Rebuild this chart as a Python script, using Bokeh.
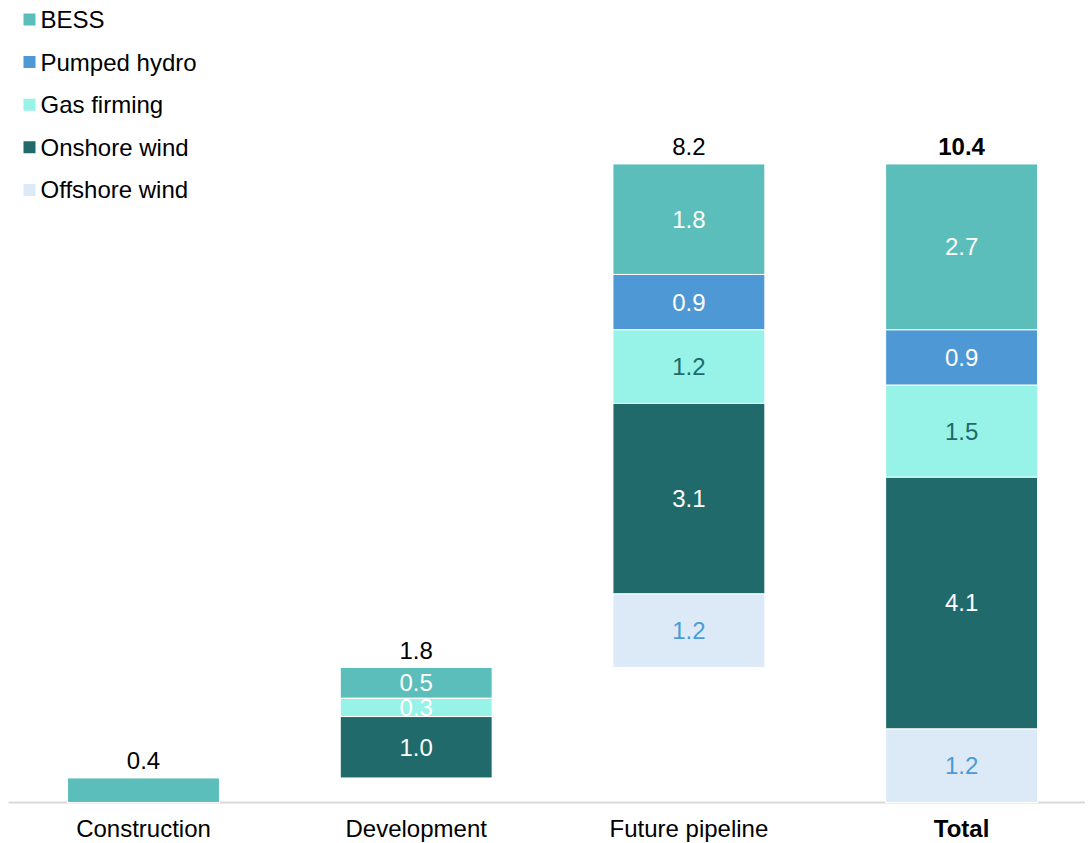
from bokeh.plotting import figure
from bokeh.models import ColumnDataSource, Range1d
from bokeh.core.properties import value
from bokeh.embed import file_html
from bokeh.resources import INLINE

# ---------------- data ----------------
categories = ["Construction", "Development", "Future pipeline", "Total"]
series = ["Offshore wind", "Onshore wind", "Gas firming", "Pumped hydro", "BESS"]  # bottom -> top
offshore_wind = [0.0, 0.0, 1.2, 1.2]
onshore_wind = [0.0, 1.0, 3.1, 4.1]
gas_firming = [0.0, 0.3, 1.2, 1.5]
pumped_hydro = [0.0, 0.0, 0.9, 0.9]
bess = [0.4, 0.5, 1.8, 2.7]
totals = [0.4, 1.8, 8.2, 10.4]
total_labels = ["0.4", "1.8", "8.2", "10.4"]

series_values = {
    "Offshore wind": offshore_wind,
    "Onshore wind": onshore_wind,
    "Gas firming": gas_firming,
    "Pumped hydro": pumped_hydro,
    "BESS": bess,
}
colors = {
    "Offshore wind": "#DCEAF7",
    "Onshore wind": "#206A6B",
    "Gas firming": "#97F2E7",
    "Pumped hydro": "#4E98D6",
    "BESS": "#5BBEBA",
}
label_colors = {
    "Offshore wind": "#4B9BD8",
    "Onshore wind": "#FFFFFF",
    "Gas firming": "#206A6B",
    "Pumped hydro": "#FFFFFF",
    "BESS": "#FFFFFF",
}

# ---------------- layout ----------------
W, H = 1085, 843
FONT = "Liberation Sans"
FS = "24px"
XU = 272.7      # px per category
YU = 61.4       # px per unit
BASE_PX = 802   # baseline in figure px from top
x0 = -143 / XU
x_range = Range1d(x0, x0 + W / XU)
y_top = BASE_PX / YU
y_range = Range1d(-(H - BASE_PX) / YU, y_top)


def px_x(px):
    return x0 + px / XU


def px_y(py):
    return y_top - py / YU


p = figure(width=W, height=H, x_range=x_range, y_range=y_range,
           output_backend="svg", toolbar_location=None,
           x_axis_location=None, y_axis_location=None,
           min_border=0, outline_line_color=None)
p.grid.visible = False
p.background_fill_color = "white"
p.border_fill_color = "white"

# baseline
p.line(x=[px_x(8), px_x(W)], y=[0, 0], line_color="#D9D9D9", line_width=2)

# waterfall bases: each step starts where the previous ended; Total from 0
bases = []
running = 0.0
for i, t in enumerate(totals):
    if i == len(totals) - 1:
        bases.append(0.0)
    else:
        bases.append(running)
        running += t

xs = list(range(len(categories)))
bar_w = 0.557
bottom = list(bases)
for s in series:
    vals = series_values[s]
    tops = [b + v for b, v in zip(bottom, vals)]
    src = ColumnDataSource(dict(x=xs, bottom=bottom, top=tops))
    p.vbar(x="x", bottom="bottom", top="top", width=bar_w, source=src,
           fill_color=colors[s], line_color="white", line_width=1)
    # inside labels
    lx, ly, lt, lc = [], [], [], []
    for i, v in enumerate(vals):
        nseg = sum(1 for ss in series if series_values[ss][i] > 0)
        if v > 0 and nseg > 1:
            lx.append(i)
            ly.append((bottom[i] + tops[i]) / 2)
            lt.append(f"{v:.1f}")
            c = label_colors[s]
            if s == "Gas firming" and v < 0.5:
                c = "#FFFFFF"
            lc.append(c)
    lsrc = ColumnDataSource(dict(x=lx, y=ly, t=lt, c=lc))
    p.text(x="x", y="y", text="t", text_color="c", source=lsrc,
           text_align="center", text_baseline="middle",
           text_font=value(FONT), text_font_size=FS)
    bottom = tops

# totals above bars
gap = 17 / YU
tsrc = ColumnDataSource(dict(
    x=xs, y=[b + t + gap for b, t in zip(bases, totals)], t=total_labels,
    style=["normal", "normal", "normal", "bold"]))
p.text(x="x", y="y", text="t", source=tsrc, text_align="center",
       text_baseline="middle", text_color="#000000",
       text_font=value(FONT), text_font_size=FS, text_font_style="style")

# category labels
csrc = ColumnDataSource(dict(
    x=xs, y=[px_y(828)] * len(xs), t=categories,
    style=["normal", "normal", "normal", "bold"]))
p.text(x="x", y="y", text="t", source=csrc, text_align="center",
       text_baseline="middle", text_color="#000000",
       text_font=value(FONT), text_font_size=FS, text_font_style="style")

# legend (top-left, top item = BESS)
leg_order = list(reversed(series))
leg_y_px = [19 + 42.6 * i for i in range(len(leg_order))]
p.scatter(x=[px_x(29)] * len(leg_order), y=[px_y(v) for v in leg_y_px],
          marker="square", size=12, line_color=None,
          fill_color=[colors[s] for s in leg_order])
p.text(x=[px_x(40)] * len(leg_order), y=[px_y(v) for v in leg_y_px],
       text=leg_order, text_align="left", text_baseline="middle",
       text_color="#000000", text_font=value(FONT), text_font_size=FS)

open("out.html", "w").write(file_html(p, INLINE))
